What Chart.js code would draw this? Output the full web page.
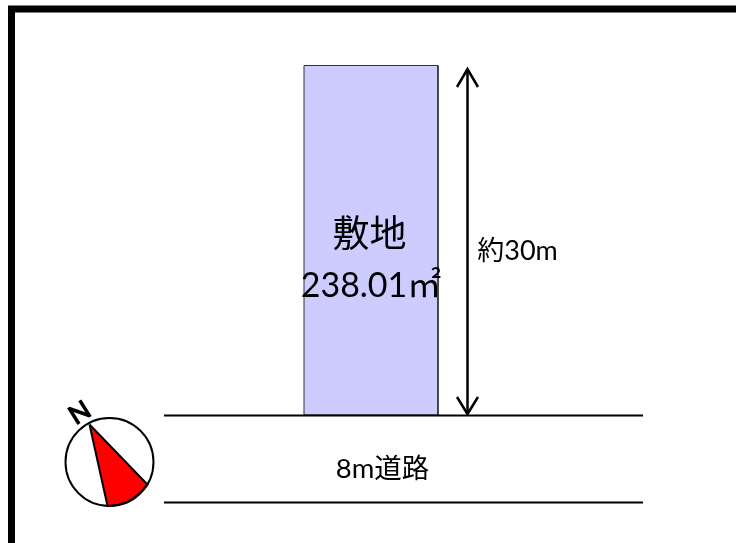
<!DOCTYPE html>
<html>
<head>
<meta charset="utf-8">
<title>敷地</title>
<script src="https://cdn.jsdelivr.net/npm/chart.js@4/dist/chart.umd.min.js"></script>
<style>
  html, body { margin: 0; padding: 0; background: #fff; }
  canvas { display: block; }
</style>
</head>
<body>
<canvas id="plan" width="736" height="543"></canvas>
<script>
// plan values
const frameX = [11.5, 11.5, 736];
const frameY = [543, 9, 9];
const siteX = [304, 438, 438, 304, 304];
const siteY = [65.5, 65.5, 415, 415, 65.5];
const roadTopX = [164, 643];
const roadTopY = [415.5, 415.5];
const roadBottomX = [164, 643];
const roadBottomY = [502.5, 502.5];
const arrowX = [467.5, 467.5];
const arrowY = [70, 413];
const arrowTopX = [457, 467.5, 478];
const arrowTopY = [87, 69, 87];
const arrowBottomX = [457, 467.5, 478];
const arrowBottomY = [397, 414, 397];
const compassX = [109.5];
const compassY = [462];
const wedgeX = [89.5, 147.5, 142, 135, 127, 118, 107.5, 89.5];
const wedgeY = [424.5, 484.5, 491, 497, 502, 505, 506, 424.5];

const labels = ['敷地', '238.01㎡', '約30m', '8m道路', 'N'];
const labelX = [369.5, 371, 517.5, 382.5, 80];
const labelY = [235, 286, 251, 469, 413];
const labelSize = [37, 34, 27, 27.5, 27];
const labelWeight = ['normal', 'normal', 'normal', 'normal', '900'];
const labelAngle = [0, 0, 0, 0, -32];

function pts(xs, ys) {
  return xs.map((x, i) => ({ x, y: ys[i] }));
}

function line(xs, ys, width) {
  return {
    data: pts(xs, ys),
    showLine: true,
    borderColor: '#000',
    borderWidth: width,
    pointRadius: 0,
    fill: false,
  };
}

const textPlugin = {
  id: 'planText',
  afterDraw(chart) {
    const { ctx, scales } = chart;
    labels.forEach((text, i) => {
      ctx.save();
      ctx.translate(scales.x.getPixelForValue(labelX[i]), scales.y.getPixelForValue(labelY[i]));
      ctx.rotate(labelAngle[i] * Math.PI / 180);
      ctx.font = `${labelWeight[i]} ${labelSize[i]}px Lato, "Noto Sans CJK JP", sans-serif`;
      ctx.fillStyle = '#000';
      ctx.textAlign = 'center';
      ctx.textBaseline = 'middle';
      ctx.fillText(text, 0, 0);
      ctx.restore();
    });
  },
};

new Chart(document.getElementById('plan').getContext('2d'), {
  type: 'scatter',
  data: {
    datasets: [
      line(frameX, frameY, 7),
      line(roadTopX, roadTopY, 2),
      line(roadBottomX, roadBottomY, 2),
      line(arrowX, arrowY, 2.5),
      line(arrowTopX, arrowTopY, 2.5),
      line(arrowBottomX, arrowBottomY, 2.5),
      {
        data: pts(compassX, compassY),
        pointRadius: 44,
        pointBackgroundColor: 'rgba(0,0,0,0)',
        pointBorderColor: '#000',
        pointBorderWidth: 2,
      },
      { ...line(wedgeX, wedgeY, 2), fill: 'shape', backgroundColor: '#ff0000' },
      { ...line(siteX, siteY, 1), borderColor: '#333', fill: 'shape', backgroundColor: '#ccccff' },
    ],
  },
  options: {
    responsive: false,
    animation: false,
    layout: { padding: 0, autoPadding: false },
    plugins: { legend: { display: false }, tooltip: { enabled: false } },
    scales: {
      x: { display: false, min: 0, max: 736 },
      y: { display: false, min: 0, max: 543, reverse: true },
    },
  },
  plugins: [textPlugin],
});
</script>
</body>
</html>
